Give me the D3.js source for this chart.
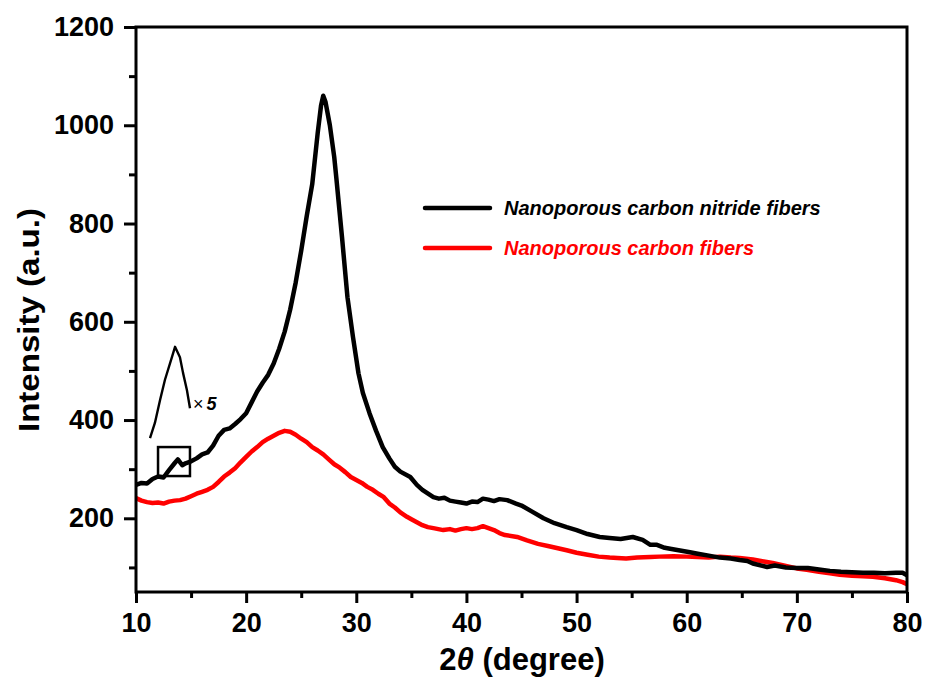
<!DOCTYPE html>
<html><head><meta charset="utf-8">
<script src="https://cdn.jsdelivr.net/npm/d3@7"></script>
<style>
html,body{margin:0;padding:0;background:#fff;}
svg{display:block;font-family:"Liberation Sans",Arial,sans-serif;}
</style></head>
<body>
<svg id="chart" width="927" height="684"></svg>
<script>
// ---------- DATA ----------
const xTicksMajor = [10,20,30,40,50,60,70,80];
const xTicksMinor = [15,25,35,45,55,65,75];
const yTicksMajor = [200,400,600,800,1000,1200];
const yTicksMinor = [100,300,500,700,900,1100];

const seriesNames = ["Nanoporous carbon nitride fibers","Nanoporous carbon fibers"];
const seriesColors = ["#000000","#ff0000"];

const nitrideTheta = [10,10.5,11,11.5,12,12.5,13,13.5,13.8,14.2,14.5,15,15.5,16,16.5,17,17.5,18,18.5,19,19.5,20,20.5,21,21.5,22,22.5,23,23.5,24,24.5,25,25.5,26,26.5,26.8,27,27.2,27.6,28,28.2,28.7,29.2,29.7,30.2,30.6,31.2,31.8,32.4,33,33.5,34,34.9,35.5,36,37,37.5,38,38.5,39,39.5,40,40.5,41,41.5,42,42.5,43,43.7,44.5,45,46,47,48,49.1,50,51,52.1,53,54,55.1,56,56.7,57.3,58,59,60.3,61,62,63,64,64.8,65.5,66,67.3,68,69,70,71,72,73,74,75,76,77,78,79,79.6,80];
const nitrideInt = [268,272,271,280,285,283,298,312,320,308,312,316,322,330,334,348,368,380,383,392,402,414,436,458,476,492,515,545,580,625,680,745,815,880,985,1040,1060,1048,1000,935,890,773,650,569,495,455,414,378,345,322,305,295,284,268,258,243,240,242,236,234,232,230,234,233,240,238,235,239,237,230,226,213,200,190,182,176,168,162,160,158,162,156,146,146,140,136,131,128,124,120,118,115,113,108,101,104,100,99,99,96,93,91,90,89,89,88,89,89,84];

const carbonTheta = [10,10.5,11,11.5,12,12.5,13,13.5,14,14.5,15,15.5,16,16.5,17,17.5,18,18.5,19,19.5,20,20.5,21,21.5,22,22.5,23,23.5,24,24.5,25,25.5,26,26.5,27,27.5,28,28.5,29,29.5,30,30.5,31,31.5,32,32.5,33,33.5,34,34.6,35,35.5,36,36.5,37,37.9,38.5,39,39.5,40,40.5,41,41.5,42,42.5,43,43.5,44.6,45.5,46.5,47.5,48.5,49.1,50,51,52,53,53.7,54.5,55.5,56.7,57.5,58.8,60,61,62,63,64,64.8,66,67,67.8,69,70,70.9,72,73,73.9,75,76,76.9,78,79,79.6,80];
const carbonInt = [241,236,233,231,232,230,234,236,237,240,245,250,254,258,264,274,285,293,302,314,325,336,345,355,362,368,374,378,376,370,362,355,345,338,330,320,310,303,294,284,278,272,264,258,250,243,230,222,212,203,198,192,186,182,180,176,178,175,178,180,178,180,184,180,176,170,166,162,155,148,143,138,135,130,126,122,120,119,118,120,121,122,123,122,121,120,122,120,119,116,112,109,103,98,95,91,88,85,83,82,81,78,74,70,66];

// magnified (x5) inset segment
const insetTheta = [12.8,12.99,13.19,13.38,13.65,13.77,13.96,14.08,14.23,14.35];
const insetInt = [363,394,441,482,528,549,528,496,461,424];
// box marking magnified region
const boxTheta = [12.0,14.9];
const boxInt = [286,345];

// ---------- CHART ----------
const svg = d3.select("#chart");
const x = d3.scaleLinear().domain([10,80]).range([136,907]);
const y = d3.scaleLinear().domain([50,1200]).range([592,27]);
const xInset = d3.scaleLinear().domain([12.8,14.35]).range([150,190]);

const font = '"Liberation Sans",Arial,sans-serif';

const line = d3.line().x(d=>x(d[0])).y(d=>y(d[1]));
const nitride = nitrideTheta.map((t,i)=>[t,nitrideInt[i]]);
const carbon = carbonTheta.map((t,i)=>[t,carbonInt[i]]);

svg.append("path").datum(carbon).attr("d",line)
  .attr("fill","none").attr("stroke",seriesColors[1]).attr("stroke-width",4.5).attr("stroke-linejoin","round");
svg.append("path").datum(nitride).attr("d",line)
  .attr("fill","none").attr("stroke",seriesColors[0]).attr("stroke-width",4.5).attr("stroke-linejoin","round");

// inset
const insetLine = d3.line().x(d=>xInset(d[0])).y(d=>y(d[1]));
svg.append("path").datum(insetTheta.map((t,i)=>[t,insetInt[i]])).attr("d",insetLine)
  .attr("fill","none").attr("stroke","#000").attr("stroke-width",2.4).attr("stroke-linejoin","round");
svg.append("rect")
  .attr("x",x(boxTheta[0])).attr("y",y(boxInt[1]))
  .attr("width",x(boxTheta[1])-x(boxTheta[0])).attr("height",y(boxInt[0])-y(boxInt[1]))
  .attr("fill","none").attr("stroke","#000").attr("stroke-width",2.5);
const t5 = svg.append("text").attr("x",193).attr("y",410)
  .attr("font-family",font).attr("font-size",18).attr("fill","#000");
t5.append("tspan").text("×");
t5.append("tspan").attr("dx",3).attr("font-style","italic").attr("font-weight","bold").text("5");

// axes
function styleAxis(g){
  g.select(".domain").remove();
  g.selectAll(".tick line").attr("stroke","#000").attr("stroke-width",3);
  g.selectAll(".tick text").attr("font-family",font).attr("font-weight","bold").attr("font-size",27).attr("fill","#000");
}
svg.append("g").attr("transform","translate(0,592)")
  .call(d3.axisBottom(x).tickValues(xTicksMajor).tickSize(11).tickPadding(10).tickFormat(d3.format("d")))
  .call(styleAxis);
svg.append("g").attr("transform","translate(0,592)")
  .call(d3.axisBottom(x).tickValues(xTicksMinor).tickSize(6).tickFormat(""))
  .call(styleAxis);
svg.append("g").attr("transform","translate(136,0)")
  .call(d3.axisLeft(y).tickValues(yTicksMajor).tickSize(12).tickPadding(10).tickFormat(d3.format("d")))
  .call(styleAxis);
svg.append("g").attr("transform","translate(136,0)")
  .call(d3.axisLeft(y).tickValues(yTicksMinor).tickSize(7).tickFormat(""))
  .call(styleAxis);

// frame
svg.append("rect").attr("x",136).attr("y",27).attr("width",907-136).attr("height",592-27)
  .attr("fill","none").attr("stroke","#000").attr("stroke-width",3);

// axis titles
svg.append("text").attr("transform","translate(39,320) rotate(-90)")
  .attr("text-anchor","middle").attr("font-family",font).attr("font-weight","bold")
  .attr("font-size",30).attr("textLength",224).attr("lengthAdjust","spacingAndGlyphs")
  .text("Intensity (a.u.)");
const xt = svg.append("text").attr("x",522).attr("y",670)
  .attr("text-anchor","middle").attr("font-family",font).attr("font-weight","bold")
  .attr("font-size",31);
xt.append("tspan").text("2");
xt.append("tspan").attr("font-style","italic").text("θ");
xt.append("tspan").text(" (degree)");

// legend
const leg = svg.append("g");
seriesNames.forEach((name,i)=>{
  const ly = 208 + i*40;
  leg.append("line").attr("x1",425).attr("x2",490).attr("y1",ly).attr("y2",ly)
    .attr("stroke",seriesColors[i]).attr("stroke-width",4.5).attr("stroke-linecap","round");
  leg.append("text").attr("x",504).attr("y",ly+7)
    .attr("font-family",font).attr("font-weight","bold").attr("font-style","italic")
    .attr("font-size",20).attr("fill",seriesColors[i]).text(name);
});
</script>
</body></html>
